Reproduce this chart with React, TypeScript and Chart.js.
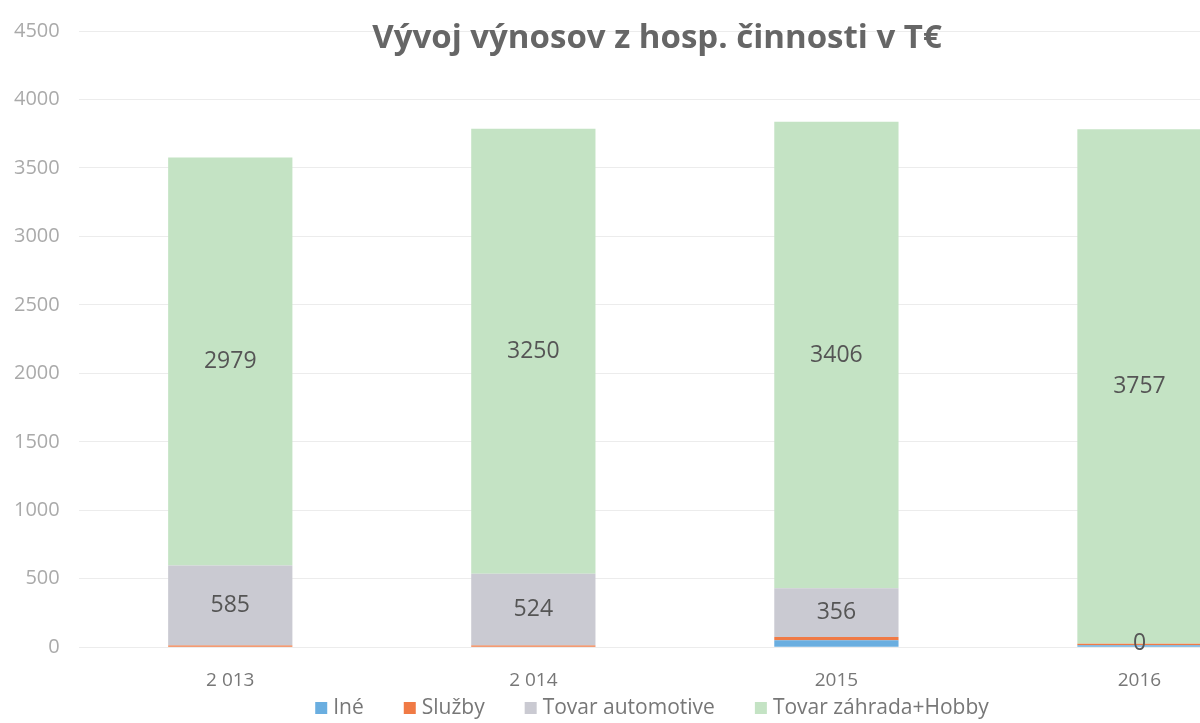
import React, { useEffect, useRef } from "react";
import { Chart, registerables } from "chart.js";

Chart.register(...registerables);

const categories = ["2 013", "2 014", "2015", "2016"];
const ine = [0, 0, 50, 15];
const sluzby = [12, 12, 25, 10];
const automotive = [585, 524, 356, 0];
const zahrada = [2979, 3250, 3406, 3757];
const yTicks = [0, 500, 1000, 1500, 2000, 2500, 3000, 3500, 4000, 4500];
const seriesNames = ["Iné", "Služby", "Tovar automotive", "Tovar záhrada+Hobby"];
const seriesColors = ["#6aaee0", "#f07a45", "#cacad2", "#c4e3c4"];
const titleText = "Vývoj výnosov z hosp. činnosti v T€";

const FONT = "'Open Sans', 'Noto Sans', sans-serif";
const SHIFT = 15;

const labelPlugin = {
  id: "segLabels",
  afterDatasetsDraw(chart: any) {
    const ctx = chart.ctx;
    ctx.save();
    ctx.font = `23px ${FONT}`;
    ctx.fillStyle = "#555";
    ctx.textAlign = "center";
    ctx.textBaseline = "middle";
    [2, 3].forEach((di) => {
      const meta = chart.getDatasetMeta(di);
      const data = chart.data.datasets[di].data;
      meta.data.forEach((bar: any, i: number) => {
        const v = data[i];
        const y = (bar.y + bar.base) / 2;
        ctx.fillText(String(v), bar.x, y);
      });
    });
    ctx.restore();
  },
};

const titlePlugin = {
  id: "customTitle",
  afterDraw(chart: any) {
    const ctx = chart.ctx;
    ctx.save();
    ctx.font = `bold 33px ${FONT}`;
    ctx.fillStyle = "#666";
    ctx.textAlign = "center";
    ctx.textBaseline = "middle";
    ctx.fillText(titleText, 657 + SHIFT, 39);
    ctx.restore();
  },
};

const legendPlugin = {
  id: "customLegend",
  afterDraw(chart: any) {
    const ctx = chart.ctx;
    ctx.save();
    ctx.font = `21px ${FONT}`;
    ctx.textBaseline = "middle";
    ctx.textAlign = "left";
    const box = 12;
    const gapBox = 6;
    const gapItem = 40;
    const widths = seriesNames.map((n) => box + gapBox + ctx.measureText(n).width);
    const total = widths.reduce((a, b) => a + b, 0) + gapItem * (widths.length - 1);
    let x = 652 + SHIFT - total / 2;
    const y = 708;
    seriesNames.forEach((n, i) => {
      ctx.fillStyle = seriesColors[i];
      ctx.fillRect(x, y - box / 2, box, box);
      ctx.fillStyle = "#777";
      ctx.fillText(n, x + box + gapBox, y);
      x += widths[i] + gapItem;
    });
    ctx.restore();
  },
};

export default function App() {
  const ref = useRef<HTMLCanvasElement>(null);
  useEffect(() => {
    document.body.style.margin = "0";
    const chart = new Chart(ref.current!, {
      type: "bar",
      data: {
        labels: categories,
        datasets: seriesNames.map((name, i) => ({
          label: name,
          data: [ine, sluzby, automotive, zahrada][i],
          backgroundColor: seriesColors[i],
        })),
      },
      options: {
        responsive: false,
        animation: false,
        devicePixelRatio: 1,
        layout: { padding: { top: 25, left: 10, right: 0, bottom: 17 } },
        datasets: { bar: { categoryPercentage: 1, barPercentage: 0.41 } },
        plugins: {
          title: { display: false },
          tooltip: { enabled: false },
          legend: { display: false },
        },
        scales: {
          x: {
            stacked: true,
            grid: { display: false },
            border: { display: false },
            ticks: { color: "#777", font: { family: FONT, size: 19 }, padding: 14 },
          },
          y: {
            stacked: true,
            min: 0,
            max: 4500,
            afterBuildTicks: (axis: any) => {
              axis.ticks = yTicks.map((v) => ({ value: v }));
            },
            grid: { color: "#ececec", drawTicks: false },
            border: { display: false },
            ticks: {
              color: "#aaa",
              font: { family: FONT, size: 20 },
              padding: 19,
              callback: (v: any) => String(v),
            },
          },
        },
      },
      plugins: [labelPlugin, titlePlugin, legendPlugin],
    });
    return () => chart.destroy();
  }, []);
  return (
    <div style={{ width: 1200, height: 723, overflow: "hidden", position: "relative", background: "#fff" }}>
      <canvas ref={ref} width={1291 + SHIFT} height={723} style={{ position: "absolute", left: -SHIFT, top: 0 }} />
    </div>
  );
}
